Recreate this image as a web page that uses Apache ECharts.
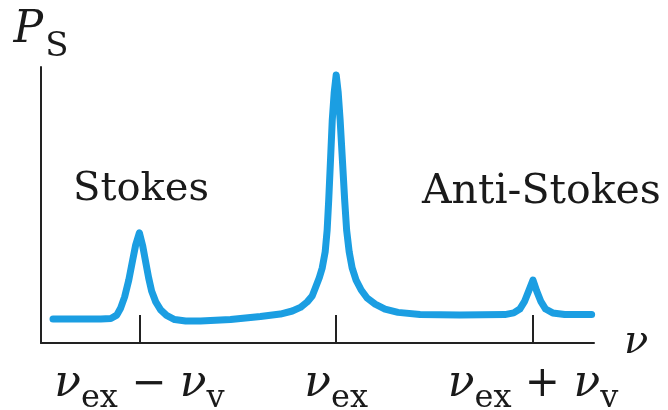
<!DOCTYPE html>
<html>
<head>
<meta charset="utf-8">
<script src="https://cdn.jsdelivr.net/npm/echarts@6/dist/echarts.min.js"></script>
<style>
  html, body { margin: 0; padding: 0; background: #ffffff; }
  #chart { width: 668px; height: 410px; }
</style>
</head>
<body>
<div id="chart"></div>
<script>
// Frequency offset from nu_ex in units of nu_v
const freq = [-1.439, -1.196, -1.145, -1.115, -1.095, -1.075, -1.054, -1.034, -1.019, -1.0,
  -0.983, -0.968, -0.953, -0.938, -0.917, -0.892, -0.862, -0.821, -0.765, -0.689,
  -0.537, -0.385, -0.284, -0.223, -0.182, -0.147, -0.122, -0.106, -0.086, -0.071,
  -0.056, -0.046, -0.038, -0.030, -0.020, -0.010, 0.0, 0.010, 0.020, 0.033,
  0.043, 0.053, 0.066, 0.081, 0.101, 0.127, 0.157, 0.198, 0.248, 0.314,
  0.426, 0.628, 0.857, 0.902, 0.933, 0.958, 0.978, 1.0, 1.019, 1.039,
  1.064, 1.100, 1.161, 1.298];
// Scattered power P_S (relative)
const power = [0.087, 0.087, 0.089, 0.101, 0.127, 0.167, 0.228, 0.301, 0.355, 0.399,
  0.351, 0.293, 0.236, 0.188, 0.149, 0.120, 0.100, 0.085, 0.080, 0.080,
  0.085, 0.096, 0.105, 0.116, 0.129, 0.149, 0.170, 0.199, 0.236, 0.272,
  0.330, 0.409, 0.518, 0.645, 0.808, 0.909, 0.971, 0.909, 0.808, 0.645,
  0.518, 0.409, 0.330, 0.272, 0.228, 0.192, 0.163, 0.141, 0.123, 0.111,
  0.103, 0.101, 0.103, 0.109, 0.123, 0.152, 0.188, 0.228, 0.188, 0.152,
  0.123, 0.109, 0.103, 0.103];
const tickValues = [-1, 0, 1];
const tickLabels = [
  '{nu|ν}{sub|ex}{op| − }{nu|ν}{sub|v}',
  '{nu|ν}{sub|ex}',
  '{nu|ν}{sub|ex}{op| + }{nu|ν}{sub|v}'
];
const peakNames = ['Stokes', 'Anti-Stokes'];

const face = 'DejaVu Serif';
const ink = '#1a1a1a';
const chart = echarts.init(document.getElementById('chart'));
const richLabel = {
  nu: { fontFamily: face, fontStyle: 'italic', fontSize: 44, color: ink, lineHeight: 56 },
  sub: { fontFamily: face, fontSize: 32, color: ink, padding: [28, 0, 0, 0], lineHeight: 40 },
  op: { fontFamily: face, fontSize: 42, color: ink, lineHeight: 56 }
};
chart.setOption({
  animation: false,
  backgroundColor: '#ffffff',
  grid: { left: 41, right: 74, top: 67, bottom: 67, outerBoundsMode: 'none' },
  xAxis: {
    type: 'value', min: -1.5, max: 1.31,
    name: 'ν', nameLocation: 'end', nameGap: 14,
    nameTextStyle: { fontFamily: face, fontStyle: 'italic', fontSize: 40, color: ink, verticalAlign: 'middle', padding: [0, 0, 8, 0] },
    splitLine: { show: false },
    axisLine: { show: true, onZero: false, lineStyle: { color: '#222', width: 2 } },
    axisTick: { show: true, inside: true, length: 28, customValues: tickValues, lineStyle: { color: '#222', width: 2 } },
    axisLabel: {
      show: true, margin: 14, customValues: tickValues,
      formatter: function (v) { return tickLabels[tickValues.indexOf(Math.round(v))]; },
      rich: richLabel
    }
  },
  yAxis: {
    type: 'value', min: 0, max: 1,
    name: '{P|P}{S|S}', nameLocation: 'end', nameGap: 8,
    nameTextStyle: {
      align: 'center',
      rich: {
        P: { fontFamily: face, fontStyle: 'italic', fontSize: 44, color: ink, lineHeight: 56 },
        S: { fontFamily: face, fontSize: 34, color: ink, padding: [32, 0, 0, 2], lineHeight: 40 }
      }
    },
    splitLine: { show: false },
    axisLine: { show: true, onZero: false, lineStyle: { color: '#222', width: 2 } },
    axisTick: { show: false },
    axisLabel: { show: false }
  },
  graphic: [
    { type: 'text', left: 73, top: 170, style: { text: peakNames[0], fontFamily: face, fontSize: 40, fill: ink } },
    { type: 'text', left: 422, top: 172, style: { text: peakNames[1], fontFamily: face, fontSize: 41, fill: ink } }
  ],
  series: [{
    type: 'line',
    data: freq.map((f, i) => [f, power[i]]),
    showSymbol: false,
    smooth: false,
    lineStyle: { color: '#1b9ee2', width: 7, cap: 'round', join: 'round' }
  }]
});
</script>
</body>
</html>
